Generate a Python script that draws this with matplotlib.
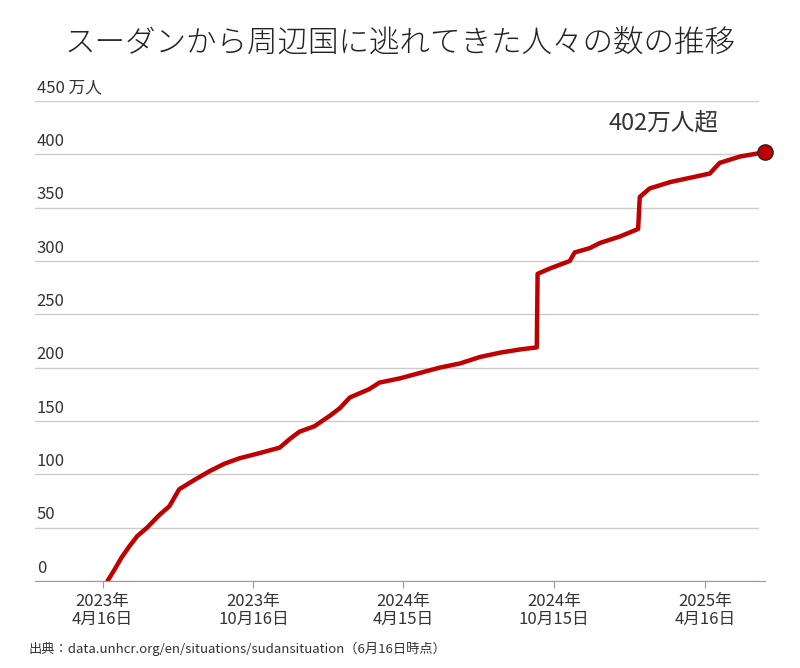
import matplotlib
matplotlib.use("Agg")
import matplotlib.pyplot as plt
import pandas as pd

plt.rcParams['font.family'] = ['Noto Sans CJK JP', 'DejaVu Sans']

dates = ["2023-04-22","2023-04-30","2023-05-09","2023-05-19","2023-05-28","2023-06-09","2023-06-24",
         "2023-07-06","2023-07-18","2023-08-06","2023-08-24","2023-09-11","2023-09-29","2023-10-24",
         "2023-11-17","2023-11-29","2023-12-11","2023-12-29","2024-01-17","2024-01-29","2024-02-10",
         "2024-03-05","2024-03-17","2024-04-11","2024-05-05","2024-05-29","2024-06-23","2024-07-17",
         "2024-08-10","2024-09-03","2024-09-24","2024-09-25","2024-10-10","2024-11-03","2024-11-09",
         "2024-11-27","2024-12-10","2025-01-03","2025-01-25","2025-01-27","2025-02-08","2025-03-05",
         "2025-03-29","2025-04-22","2025-05-04","2025-05-29","2025-06-28"]
values = [0,10,22,33,42,50,62,70,86,95,103,110,115,120,125,133,140,145,155,162,172,
          180,186,190,195,200,204,210,214,217,219,288,293,300,308,312,317,323,330,360,368,374,
          378,382,392,398,402]
tick_dates = ["2023-04-16","2023-10-16","2024-04-15","2024-10-15","2025-04-16"]
tick_labels = ["2023年\n4月16日","2023年\n10月16日","2024年\n4月15日","2024年\n10月15日","2025年\n4月16日"]
yticks = [0,50,100,150,200,250,300,350,400,450]

d = pd.to_datetime(dates)
fig = plt.figure(figsize=(8,6.68), dpi=100)
ax = fig.add_axes([35/800, 87/668, 730/800, 480/668])
ax.plot(d, values, color='#c00000', lw=3.2, solid_joinstyle='round', solid_capstyle='round')
ax.plot(d[-1], values[-1], 'o', ms=11, color='#c00000', mec='#222222', mew=1, clip_on=False, zorder=5)
ax.set_xlim(pd.Timestamp("2023-01-24"), pd.Timestamp("2025-06-28"))
ax.set_ylim(0, 450)
for s in ['left','right','top']:
    ax.spines[s].set_visible(False)
ax.spines['bottom'].set_color('#999999')
for v in yticks:
    ax.axhline(v, xmax=723/730, color='#cccccc', lw=1, zorder=0)
    lab = "450 万人" if v == 450 else str(v)
    ax.text(pd.Timestamp("2023-01-26"), v+4, lab, fontsize=12, color='#333333', va='bottom', ha='left')
ax.set_yticks([])
ax.set_xticks(pd.to_datetime(tick_dates))
ax.set_xticklabels(tick_labels, fontsize=12, color='#333333', linespacing=1.1)
ax.tick_params(axis='x', length=5, color='#999999')
ax.text(pd.Timestamp("2025-02-25"), 418, "402万人超", fontsize=17, ha='center', va='bottom', color='#333333')
fig.text(0.5, 0.935, "スーダンから周辺国に逃れてきた人々の数の推移", fontsize=22, ha='center', va='center', color='#222222', fontweight='light')
fig.text(0.035, 0.022, "出典：data.unhcr.org/en/situations/sudansituation（6月16日時点）", fontsize=9.5, color='#333333')
fig.savefig("out.png", dpi=100)
